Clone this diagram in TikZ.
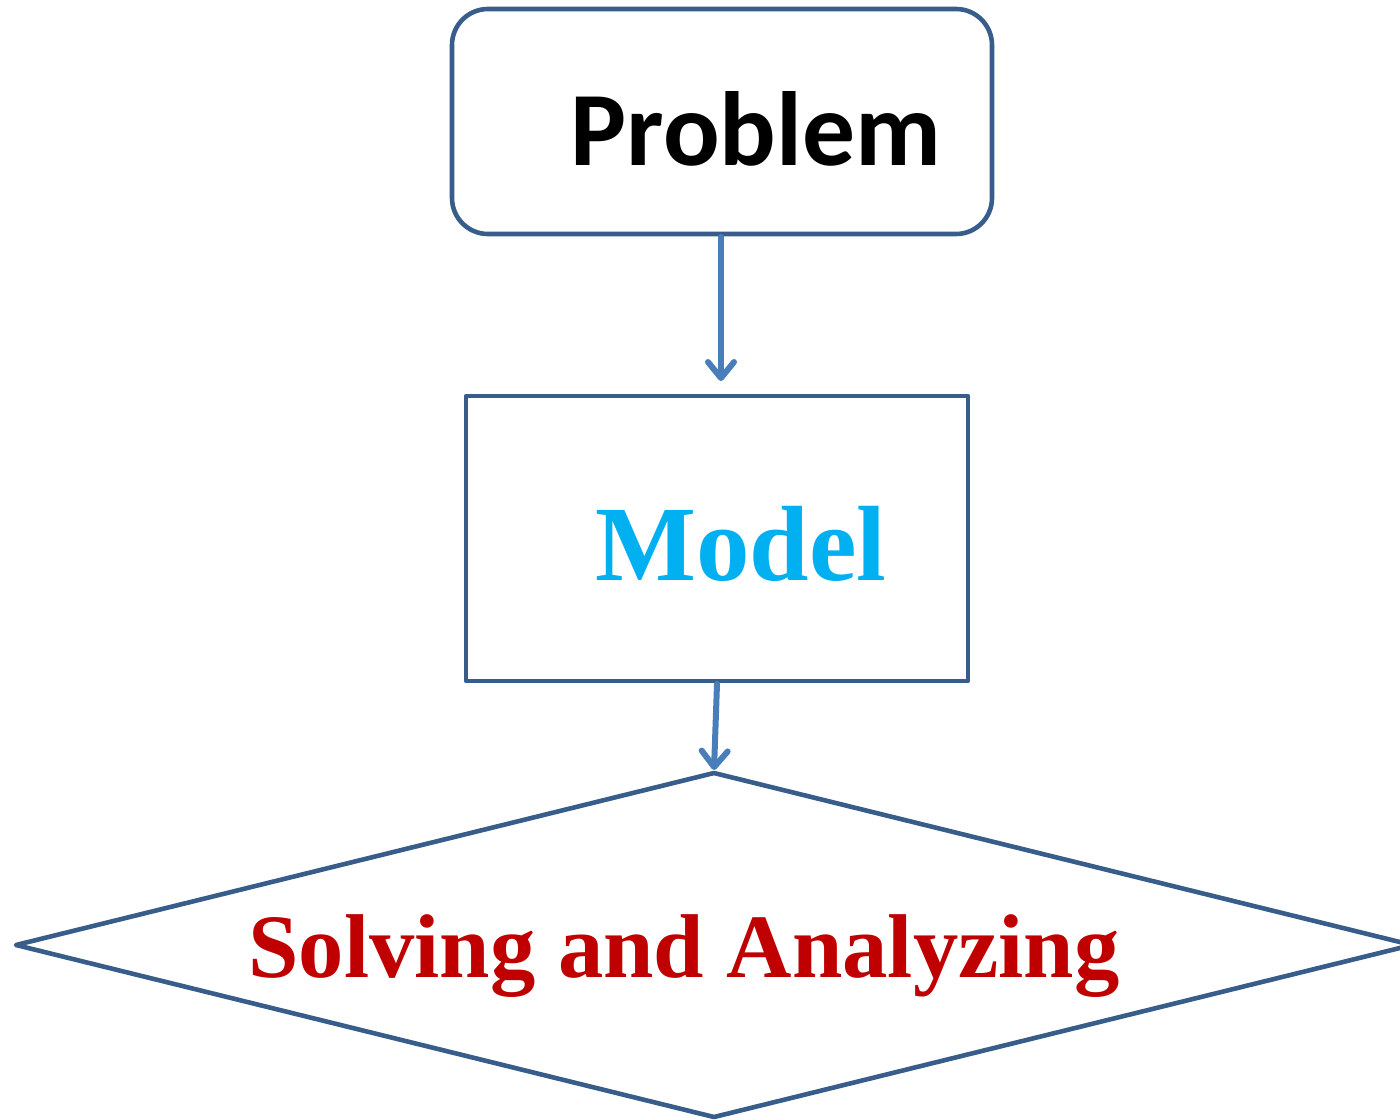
\documentclass[tikz,border=0pt]{standalone}
\usepackage{fontspec}
\setmainfont{Liberation Serif}
\newfontfamily\calib{Carlito}
\usetikzlibrary{arrows.meta}
\definecolor{boxline}{HTML}{385D8A}
\definecolor{arrowc}{HTML}{4A7EBB}
\definecolor{modelc}{HTML}{00B0F0}
\definecolor{solvec}{HTML}{C00000}
\tikzset{
  frame/.style={draw=boxline, line width=4.6pt, inner sep=0pt, fill=white},
  conn/.style={draw=arrowc, line width=6pt, line cap=round,
    -{Straight Barb[length=16pt,width=26pt,round]}},
  lbl/.style={anchor=base, inner sep=0pt}
}
\begin{document}
\begin{tikzpicture}[x=1pt,y=-1pt]
\useasboundingbox (0,0) rectangle (1400,1119);
% boxes
\node[frame, rounded corners=36pt, minimum width=540pt, minimum height=225pt] (problem) at (722,121.5) {};
\node[frame, line join=round, minimum width=502pt, minimum height=285pt] (model) at (717,538.5) {};
% diamond
\coordinate (dl) at (16,945);
\coordinate (dt) at (714,773);
\coordinate (dr) at (1412,945);
\coordinate (db) at (714,1117);
\draw[boxline, line width=4.6pt, line join=round] (dl) -- (dt) -- (dr) -- (db) -- cycle;
% texts
\node[lbl] (ptext) at (756,165) {\calib\bfseries\fontsize{105.5}{110}\selectfont Problem};
\node[lbl, text=modelc] (mtext) at (741,580) {\bfseries\fontsize{107}{110}\selectfont Model};
\node[lbl, text=solvec] (stext) at (684,977) {\bfseries\fontsize{90.6}{100}\selectfont Solving and Analyzing};
% connectors
\coordinate (a1s) at (721,237);
\coordinate (a1e) at (721,381);
\coordinate (a2s) at (717,684);
\coordinate (a2e) at (714,770);
\draw[conn] (a1s) -- (a1e);
\draw[conn] (a2s) -- (a2e);
\end{tikzpicture}
\end{document}
